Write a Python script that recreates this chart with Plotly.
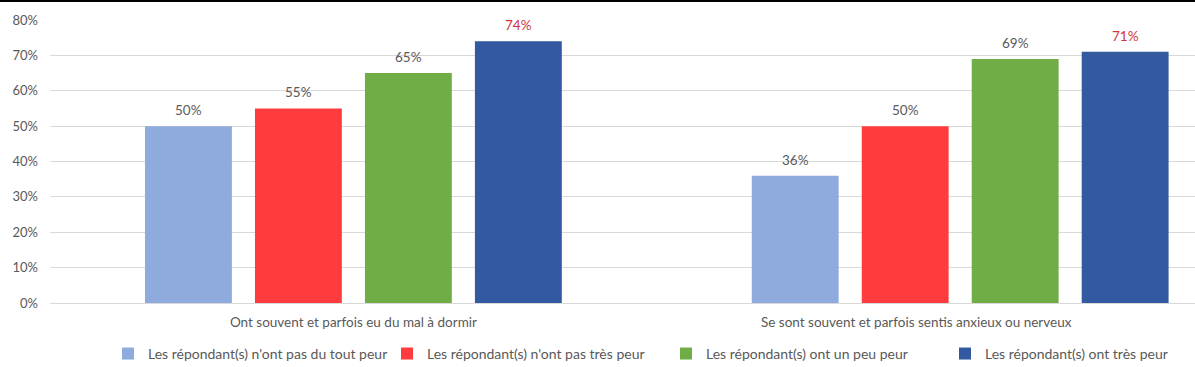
import plotly.graph_objects as go

categories = ["Ont souvent et parfois eu du mal à dormir",
              "Se sont souvent et parfois sentis anxieux ou nerveux"]
series_names = ["Les répondant(s) n'ont pas du tout peur",
                "Les répondant(s) n'ont pas très peur",
                "Les répondant(s) ont un peu peur",
                "Les répondant(s) ont très peur"]
values_1 = [50, 36]
values_2 = [55, 50]
values_3 = [65, 69]
values_4 = [74, 71]
colors = ["#8FAADC", "#FF3B3D", "#70AD47", "#335AA1"]
label_colors = ["#595959", "#595959", "#595959", "#D0343A"]
y_ticks = [0, 10, 20, 30, 40, 50, 60, 70, 80]

font = "Lato, 'Open Sans', sans-serif"
bargap = 0.275
fig = go.Figure()
xs = [0, 1]
all_values = [values_1, values_2, values_3, values_4]
n = len(all_values)
slot = (1 - bargap) / n
annotations = []
for i, (name, vals, col, lc) in enumerate(zip(series_names, all_values, colors, label_colors)):
    fig.add_trace(go.Bar(
        x=xs, y=vals, name=name, marker=dict(color=col, line=dict(width=0)),
    ))
    for xi, v in zip(xs, vals):
        annotations.append(dict(
            x=xi + (i - (n - 1) / 2) * slot, y=v, xref="x", yref="y",
            text=f"{v}%", showarrow=False, yanchor="bottom", yshift=6,
            font=dict(color=lc, size=13.5, family=font)))

fig.update_layout(
    width=1195, height=367,
    margin=dict(l=50, r=0, t=20, b=64, autoexpand=False),
    paper_bgcolor="white", plot_bgcolor="white",
    barmode="group", bargap=bargap, bargroupgap=0.21,
    font=dict(family=font, size=13, color="#595959"),
    showlegend=True,
    legend=dict(orientation="h", x=(108 - 50) / 1145, xanchor="left", y=-0.18, yanchor="middle",
                font=dict(size=14, color="#595959"), itemwidth=30,
                entrywidth=234, entrywidthmode="pixels"),
    xaxis=dict(range=[-0.5, 1.387], tickvals=[0, 0.9275], ticktext=categories,
               showgrid=False, zeroline=False, showline=True, linecolor="#D9D9D9",
               ticks="", tickfont=dict(size=13.5, color="#595959"), ticklabelstandoff=7,
               automargin=False),
    yaxis=dict(range=[0, 80], tickvals=y_ticks, ticktext=[f"{t}%" for t in y_ticks],
               showgrid=True, gridcolor="#D9D9D9", gridwidth=1, zeroline=False,
               ticks="", tickfont=dict(size=13, color="#595959"), ticklabelstandoff=11,
               automargin=False),
    annotations=annotations,
    shapes=[dict(type="line", xref="paper", yref="paper", x0=-0.05, x1=1.0,
                 y0=1 + 19/283, y1=1 + 19/283, line=dict(color="black", width=2))],
)
fig.write_html("out.html", config={"displayModeBar": False},
               post_script="document.body.style.margin='0px';document.body.style.overflow='hidden';")
